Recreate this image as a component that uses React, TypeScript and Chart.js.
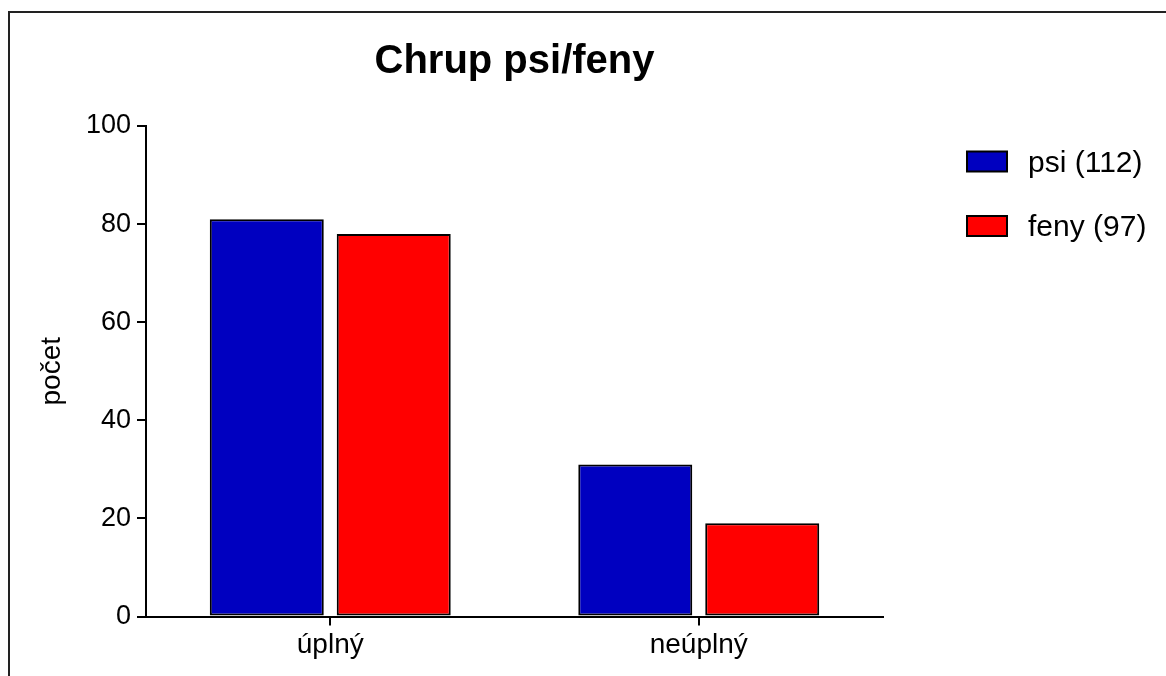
import { useEffect, useRef } from "react";
import { Chart, registerables } from "chart.js";

Chart.register(...registerables);

// Dentition counts by sex
const categories = ["úplný", "neúplný"];
const psiValues = [81, 31];
const fenyValues = [78, 19];
const seriesLabels = ["psi (112)", "feny (97)"];
const seriesColors = ["#0000C0", "#FF0000"];
const yTicks = [0, 20, 40, 60, 80, 100];

const FONT = "'Liberation Sans', Arial, Helvetica, sans-serif";

// Thin frame around the figure (top and left edges)
const framePlugin = {
  id: "frame",
  beforeDraw(chart: any) {
    const { ctx } = chart;
    ctx.save();
    ctx.strokeStyle = "#222";
    ctx.lineWidth = 2;
    ctx.beginPath();
    ctx.moveTo(9, chart.height);
    ctx.lineTo(9, 12);
    ctx.lineTo(chart.width, 12);
    ctx.stroke();
    ctx.restore();
  },
};

// Legend drawn to the right of the plot, one row per dataset
const sideLegendPlugin = {
  id: "sideLegend",
  afterDraw(chart: any) {
    const { ctx } = chart;
    ctx.save();
    chart.data.datasets.forEach((ds: any, i: number) => {
      const x = 967;
      const y = 151.5 + i * 64.5;
      ctx.fillStyle = ds.backgroundColor;
      ctx.fillRect(x, y, 40, 20);
      ctx.strokeStyle = "#000";
      ctx.lineWidth = 2;
      ctx.strokeRect(x, y, 40, 20);
      ctx.fillStyle = "#000";
      ctx.font = `30px ${FONT}`;
      ctx.textBaseline = "middle";
      ctx.textAlign = "left";
      ctx.fillText(ds.label, 1028, y + 12);
    });
    ctx.restore();
  },
};

export default function App() {
  const canvasRef = useRef<HTMLCanvasElement | null>(null);

  useEffect(() => {
    document.body.style.margin = "0";
    document.body.style.overflow = "hidden";
    const canvas = canvasRef.current;
    if (!canvas) return;

    const chart = new Chart(canvas, {
      type: "bar",
      data: {
        labels: categories,
        datasets: [
          {
            label: seriesLabels[0],
            data: psiValues,
            backgroundColor: seriesColors[0],
            borderColor: "#000",
            borderWidth: 2,
            borderSkipped: false,
            categoryPercentage: 0.689,
            barPercentage: 0.898,
          },
          {
            label: seriesLabels[1],
            data: fenyValues,
            backgroundColor: seriesColors[1],
            borderColor: "#000",
            borderWidth: 2,
            borderSkipped: false,
            categoryPercentage: 0.689,
            barPercentage: 0.898,
          },
        ],
      },
      options: {
        responsive: false,
        animation: false,
        layout: { padding: { top: 0, left: 0, bottom: 0, right: 283 } },
        plugins: {
          legend: { display: false },
          tooltip: { enabled: false },
          title: {
            display: true,
            text: "Chrup psi/feny",
            color: "#000",
            fullSize: false,
            font: { family: FONT, size: 40, weight: "bold", lineHeight: 1.2 },
            padding: { top: 38, bottom: 40 },
          },
        },
        scales: {
          x: {
            offset: true,
            afterFit: (scale: any) => {
              scale.height = 59.5;
            },
            grid: {
              offset: false,
              drawOnChartArea: false,
              drawTicks: true,
              tickLength: 9,
              color: "#000",
              lineWidth: 2,
            },
            border: { display: true, color: "#000", width: 2 },
            ticks: {
              color: "#000",
              padding: 3,
              font: { family: FONT, size: 28 },
            },
          },
          y: {
            min: 0,
            max: 100,
            afterFit: (scale: any) => {
              scale.width = 146;
            },
            afterBuildTicks: (scale: any) => {
              scale.ticks = yTicks.map((v) => ({ value: v }));
            },
            grid: {
              drawOnChartArea: false,
              drawTicks: true,
              tickLength: 9,
              color: "#000",
              lineWidth: 2,
            },
            border: { display: true, color: "#000", width: 2 },
            ticks: {
              color: "#000",
              padding: 6,
              font: { family: FONT, size: 27 },
            },
            title: {
              display: true,
              text: "počet",
              color: "#000",
              font: { family: FONT, size: 28, lineHeight: 1.2 },
              padding: { top: 35, bottom: 0 },
            },
          },
        },
      },
      plugins: [framePlugin, sideLegendPlugin],
    });

    return () => chart.destroy();
  }, []);

  return (
    <div style={{ width: 1166, height: 676, background: "#fff" }}>
      <canvas ref={canvasRef} width={1166} height={676} style={{ display: "block" }} />
    </div>
  );
}
